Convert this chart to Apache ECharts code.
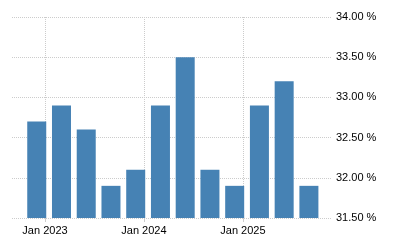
<!DOCTYPE html>
<html><head><meta charset="utf-8">
<script src="https://cdn.jsdelivr.net/npm/echarts@6/dist/echarts.min.js"></script>
<style>html,body{margin:0;padding:0;background:#fff}#c{width:400px;height:250px}</style>
</head><body><div id="c"></div>
<script>
var dates = ['2022-12','2023-03','2023-06','2023-09','2023-12','2024-03','2024-06','2024-09','2024-12','2025-03','2025-06','2025-09'];
var values = [32.7, 32.9, 32.6, 31.9, 32.1, 32.9, 33.5, 32.1, 31.9, 32.9, 33.2, 31.9];
var tickDates = ['2023-01','2024-01','2025-01'];
var monthNames = ['Jan','Feb','Mar','Apr','May','Jun','Jul','Aug','Sep','Oct','Nov','Dec'];
var yMin = 31.5, yMax = 34.0, yStep = 0.5;
var xMinDate = '2022-09', xMaxMonths = 34.8; // months after Jan 2023

function mIdx(s){var p=s.split('-');return (+p[0]-2023)*12+(+p[1]-1);}
function mLabel(m){var y=2023+Math.floor(m/12);var mo=((m%12)+12)%12;return monthNames[mo]+' '+y;}
var ticks = tickDates.map(mIdx);

var chart = echarts.init(document.getElementById('c'), null, {renderer:'canvas'});
chart.setOption({
  animation:false,
  grid:{left:12,right:68,top:17,bottom:32,containLabel:false},
  xAxis:{
    type:'value', min:mIdx(xMinDate), max:xMaxMonths, scale:true,
    axisLine:{show:false},
    axisTick:{show:true,length:4,lineStyle:{color:'#cccccc'},customValues:ticks},
    splitLine:{show:false},
    axisLabel:{
      customValues:ticks,
      color:'#000',fontFamily:'Liberation Sans, Arial, sans-serif',fontSize:11,margin:7,
      formatter:function(v){return mLabel(Math.round(v));}
    }
  },
  yAxis:{
    type:'value',position:'right',min:yMin,max:yMax,interval:yStep,
    axisLine:{show:false},axisTick:{show:false},
    splitLine:{show:true,lineStyle:{color:'#cccccc',type:[1,1]}},
    axisLabel:{color:'#000',fontFamily:'Liberation Sans, Arial, sans-serif',fontSize:11,margin:4,
      formatter:function(v){return v.toFixed(2)+' %';}}
  },
  series:[{
    type:'bar',
    data:dates.map(function(d,i){return [mIdx(d),values[i]];}),
    barWidth:19,
    itemStyle:{color:'#4682b4'},
    z:3,
    markLine:{
      silent:true, symbol:'none', label:{show:false}, z:1,
      lineStyle:{color:'#cccccc',type:[1,1],width:1},
      emphasis:{disabled:true},
      data:ticks.map(function(t){return {xAxis:t};})
    }
  }]
});
</script></body></html>
